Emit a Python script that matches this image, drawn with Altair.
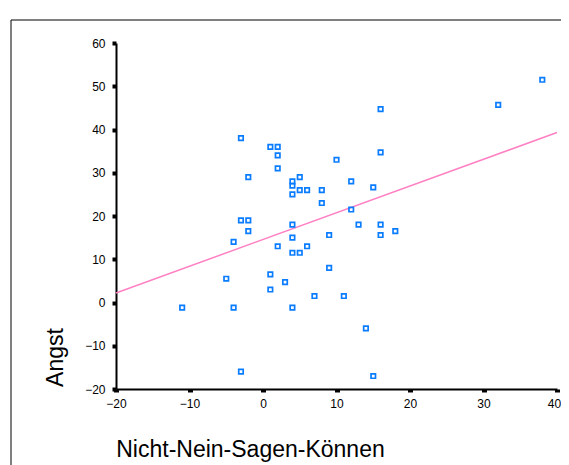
import altair as alt
import pandas as pd

# Data
nicht_nein = [-11, -5, -4, -4, -3, -3, -3, -2, -2, -2,
              1, 1, 1, 2, 2, 2, 2, 3, 4, 4,
              4, 4, 4, 4, 4, 5, 5, 5, 6, 6,
              7, 8, 8, 9, 9, 10, 11, 12, 12, 13,
              14, 15, 15, 16, 16, 16, 16, 18, 32, 38]
angst = [-1.2, 5.5, 14, -1.2, 38, 19, -16, 29, 19, 16.5,
         36, 6.5, 3, 36, 34, 31, 13, 4.7, 28, 27,
         25, 18, 15, 11.5, -1.2, 29, 26, 11.5, 26, 13,
         1.5, 26, 23, 15.6, 8, 33, 1.5, 28, 21.5, 18,
         -6, 26.6, -17, 44.7, 34.7, 18, 15.6, 16.5, 45.7, 51.5]

# Regression line end points
fit_x = [-20, 40]
fit_y = [2.2, 39.3]

x_ticks = [-20, -10, 0, 10, 20, 30, 40]
y_ticks = [-20, -10, 0, 10, 20, 30, 40, 50, 60]

pts = pd.DataFrame({"x": nicht_nein, "y": angst})
fit = pd.DataFrame({"x": fit_x, "y": fit_y})

FONT = "Liberation Sans"

xscale = alt.Scale(domain=[-20, 40], nice=False, zero=False)
yscale = alt.Scale(domain=[-20, 60], nice=False, zero=False)

xaxis = alt.Axis(
    values=x_ticks, grid=False, title="Nicht-Nein-Sagen-Können",
    domainColor="black", domainWidth=2,
    tickColor="black", tickSize=3, tickWidth=5,
    labelFont=FONT, labelFontSize=12, labelColor="black", labelPadding=6,
    labelFlush=False,
    labelOffset=alt.ExprRef(expr="datum.value == 40 ? -3 : 0"),
    titleFont=FONT, titleFontSize=23, titleFontWeight="normal", titleColor="black",
    titleX=134, titleY=67, titleAlign="center", titleBaseline="alphabetic",
)
yaxis = alt.Axis(
    values=y_ticks, grid=False, title="Angst",
    domainColor="black", domainWidth=2,
    tickColor="black", tickSize=4, tickWidth=4,
    labelFont=FONT, labelFontSize=12, labelColor="black", labelPadding=7,
    labelFlush=False,
    titleFont=FONT, titleFontSize=23, titleFontWeight="normal", titleColor="black",
    titleX=-54, titleY=314, titleAngle=270, titleAlign="center",
    titleBaseline="alphabetic",
)

points = alt.Chart(pts).mark_point(
    shape="square", filled=False, size=20, strokeWidth=1.7,
    color="#0A7CFF", opacity=1,
).encode(
    x=alt.X("x:Q", scale=xscale, axis=xaxis),
    y=alt.Y("y:Q", scale=yscale, axis=yaxis),
)

line = alt.Chart(fit).mark_line(color="#FF80C4", strokeWidth=1.5).encode(
    x=alt.X("x:Q", scale=xscale),
    y=alt.Y("y:Q", scale=yscale),
)

frame_df = pd.DataFrame({"a": [0]})
frame_v = alt.Chart(frame_df).mark_rule(color="black", strokeWidth=1).encode(
    x=alt.value(-105), y=alt.value(-23), y2=alt.value(600)
)
frame_h = alt.Chart(frame_df).mark_rule(color="black", strokeWidth=1).encode(
    x=alt.value(-105), x2=alt.value(700), y=alt.value(-23)
)

chart = alt.layer(frame_v, frame_h, line, points).properties(
    width=441, height=346,
    autosize=alt.AutoSizeParams(type="none"),
    padding={"left": 108, "top": 35, "right": 4, "bottom": 76},
    background="white",
).configure_view(stroke=None)

chart.save("out.html", embed_options={"renderer": "svg", "actions": False})
